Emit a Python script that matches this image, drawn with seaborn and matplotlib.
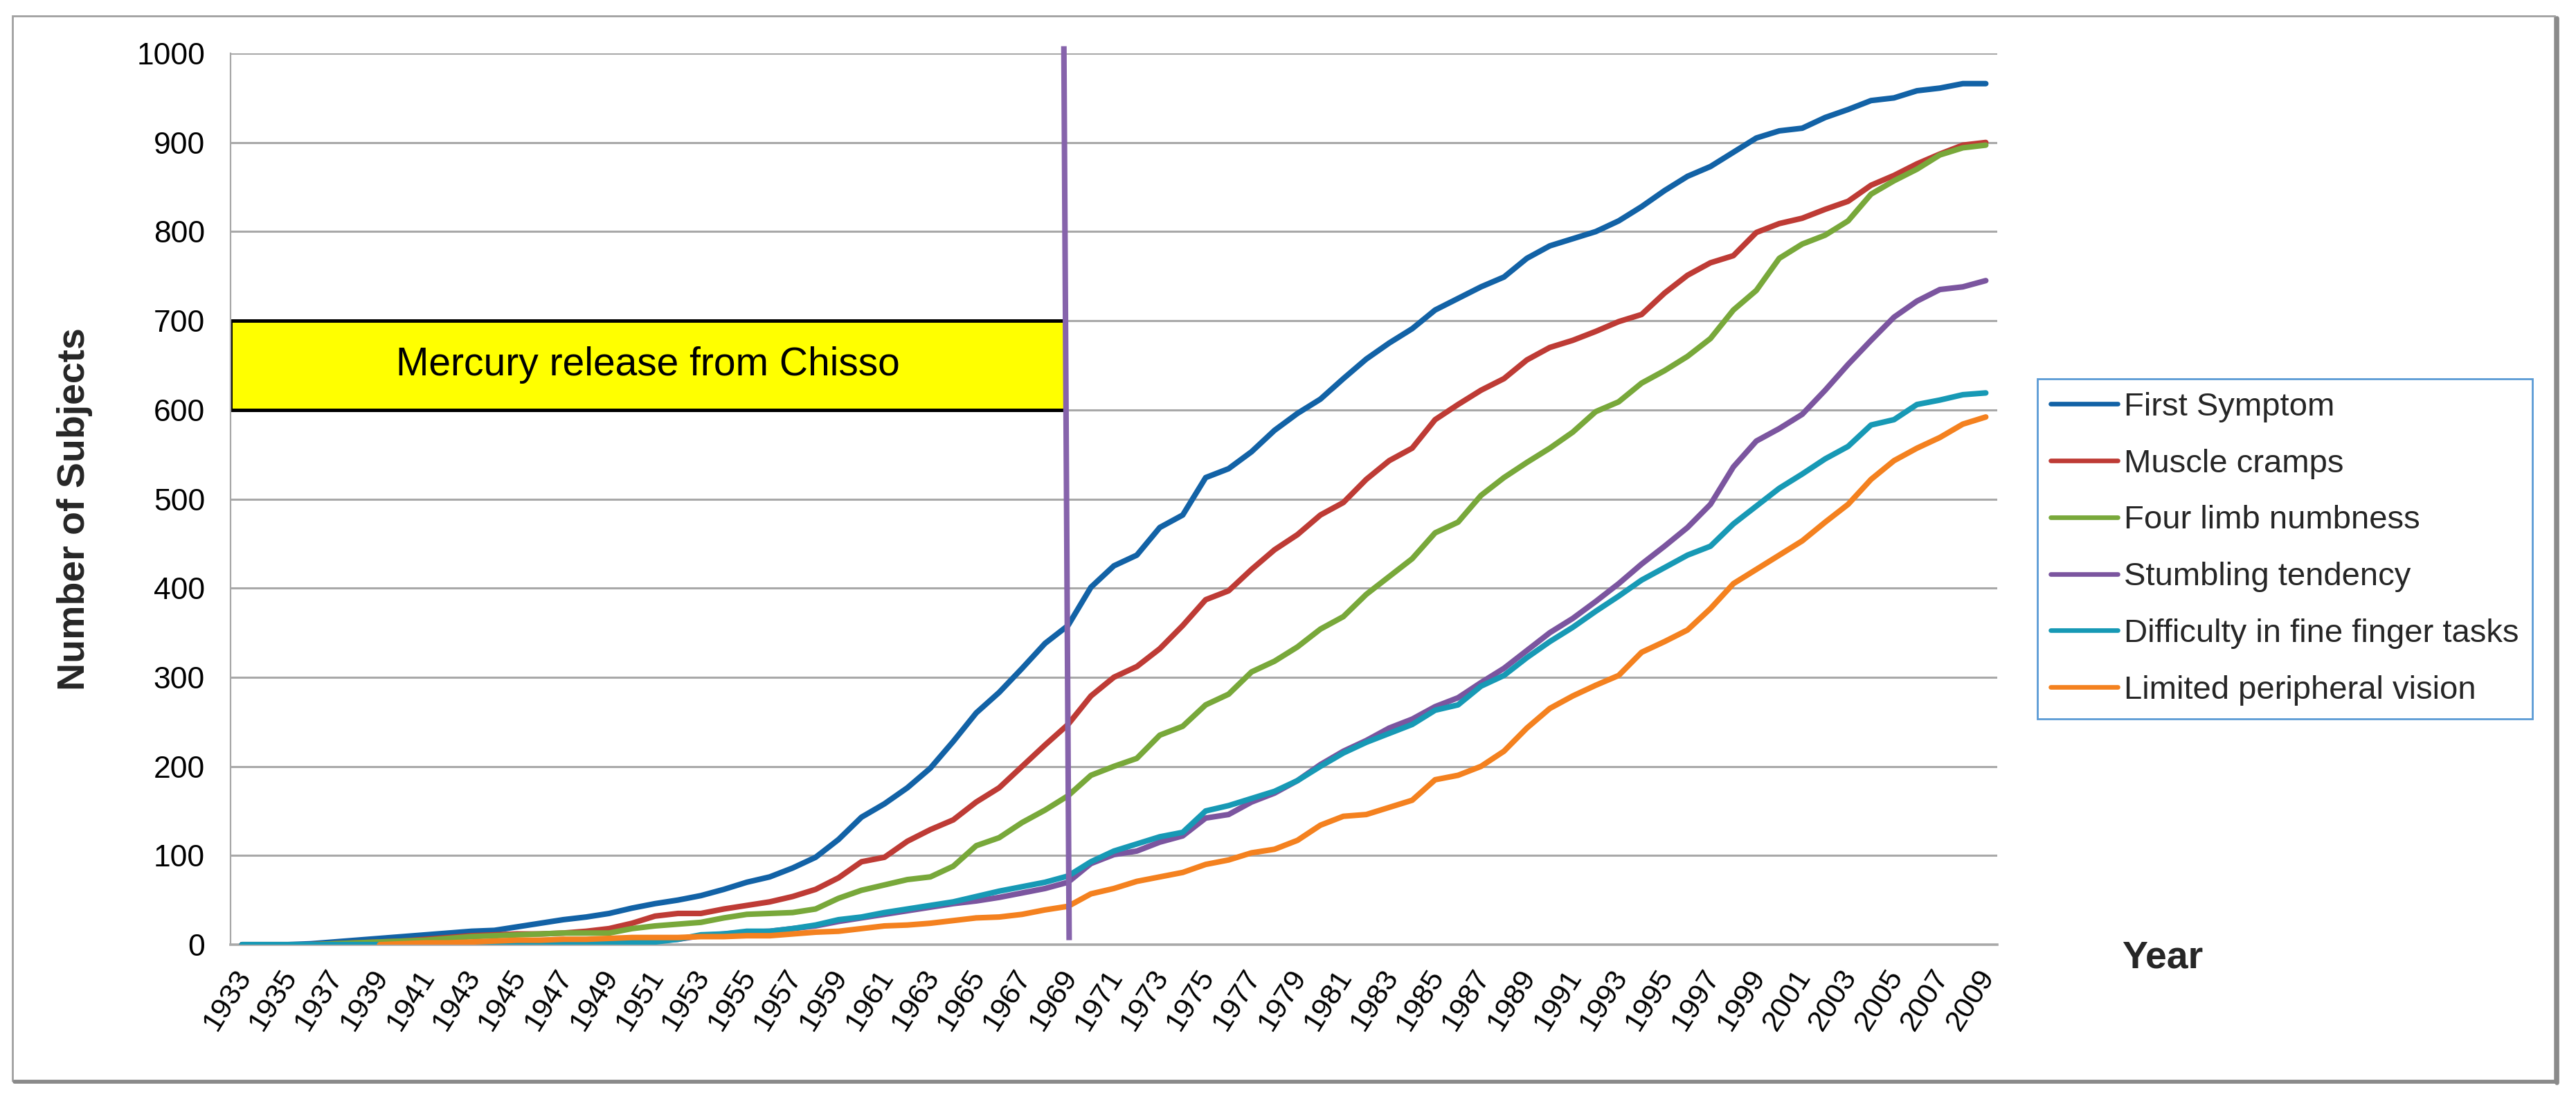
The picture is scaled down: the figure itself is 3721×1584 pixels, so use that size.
import numpy as np
import pandas as pd
import matplotlib
matplotlib.use("Agg")
import matplotlib.pyplot as plt
from matplotlib.lines import Line2D
from matplotlib.patches import Rectangle
from matplotlib.transforms import ScaledTranslation
import seaborn as sns

# ---------------- data ----------------
years = list(range(1933, 2010))

first_symptom = [0, 0, 0, 1, 3, 5, 7, 9, 11, 13, 15, 16, 20, 24, 28, 31, 35, 41, 46, 50,
                 55, 62, 70, 76, 86, 98, 118, 143, 158, 176, 198, 228, 260, 283, 310, 338, 358,
                 401, 425, 437, 468, 482, 524, 534, 553, 577, 596, 612, 635, 657, 675, 691, 712,
                 725, 738, 749, 770, 784, 792, 800, 812, 828, 846, 862, 873, 889, 905, 913, 916,
                 928, 937, 947, 950, 958, 961, 966, 966]

muscle_cramps = [0, 0, 0, 0, 1, 2, 3, 4, 6, 8, 10, 11, 12, 12, 13, 15, 18, 24, 32, 35,
                 35, 40, 44, 48, 54, 62, 75, 93, 98, 116, 129, 140, 160, 176, 200, 224, 247,
                 279, 300, 312, 332, 358, 387, 397, 421, 443, 460, 482, 496, 522, 543, 557, 589,
                 606, 622, 635, 656, 670, 678, 688, 699, 707, 731, 751, 765, 773, 799, 809, 815,
                 825, 834, 852, 863, 876, 887, 897, 900]

four_limb = [0, 0, 0, 0, 1, 2, 3, 4, 5, 7, 9, 10, 11, 12, 13, 13, 13, 18, 21, 23,
             25, 30, 34, 35, 36, 40, 52, 61, 67, 73, 76, 88, 111, 120, 137, 151, 167,
             190, 200, 209, 235, 245, 269, 281, 306, 318, 334, 354, 368, 393, 413, 433, 462,
             474, 504, 524, 541, 557, 575, 598, 609, 630, 644, 660, 680, 712, 734, 770, 786,
             796, 812, 842, 857, 870, 886, 894, 897]

stumbling = [0, 0, 0, 0, 0, 0, 0, 0, 0, 0, 0, 0, 1, 1, 1, 2, 2, 3, 4, 6,
             10, 12, 14, 15, 18, 21, 26, 30, 34, 38, 42, 46, 49, 53, 58, 63, 70,
             91, 101, 105, 115, 122, 142, 146, 160, 170, 184, 202, 217, 229, 243, 253, 267,
             277, 294, 310, 330, 350, 366, 385, 405, 427, 447, 468, 494, 536, 565, 579, 595,
             622, 651, 678, 704, 722, 735, 738, 745]

fine_finger = [0, 0, 0, 0, 0, 0, 0, 0, 0, 0, 0, 0, 1, 1, 1, 2, 2, 3, 3, 6,
               11, 12, 15, 15, 18, 22, 28, 31, 36, 40, 44, 48, 54, 60, 65, 70, 77,
               93, 105, 113, 121, 126, 150, 156, 164, 172, 184, 200, 215, 227, 237, 247, 263,
               269, 290, 302, 322, 340, 356, 374, 391, 409, 423, 437, 447, 472, 492, 512, 528,
               545, 559, 583, 589, 606, 611, 617, 619]

peripheral = [np.nan, np.nan, np.nan, np.nan, np.nan, np.nan,
              0, 1, 2, 2, 3, 4, 5, 5, 6, 6, 7, 8, 8, 8,
              9, 9, 10, 10, 12, 14, 15, 18, 21, 22, 24, 27, 30, 31, 34, 39, 43,
              57, 63, 71, 76, 81, 90, 95, 103, 107, 117, 134, 144, 146, 154, 162, 185,
              190, 200, 217, 243, 265, 279, 291, 302, 328, 340, 353, 377, 405, 421, 437, 453,
              474, 494, 522, 543, 557, 569, 584, 592]

series_names = ["First Symptom", "Muscle cramps", "Four limb numbness",
                "Stumbling tendency", "Difficulty in fine finger tasks",
                "Limited peripheral vision"]
series_values = [first_symptom, muscle_cramps, four_limb, stumbling, fine_finger, peripheral]
series_colors = ["#1262A6", "#BE3B35", "#78A83A", "#7B559F", "#1799B5", "#F4811F"]

y_ticks = list(range(0, 1001, 100))

# annotation: mercury release period (until 1969)
release_label = "Mercury release from Chisso"
release_box_low, release_box_high = 600, 700
release_end_idx = years.index(1969)

# ---------------- build long table ----------------
rows = []
for name, vals in zip(series_names, series_values):
    for i, (yr, v) in enumerate(zip(years, vals)):
        if not np.isnan(v):
            rows.append({"idx": i, "year": yr, "value": v, "series": name})
df = pd.DataFrame(rows)

# ---------------- figure ----------------
sns.set_style("white")
plt.rcParams["font.family"] = ["Liberation Sans", "DejaVu Sans"]

DPI = 200
W, H = 3721, 1584
fig = plt.figure(figsize=(W / DPI, H / DPI), dpi=DPI)
fig.patch.set_facecolor("white")

ax_left, ax_right = 333 / W, 2885 / W
ax_top, ax_bot = 1 - 77 / H, 1 - 1364 / H
ax = fig.add_axes([ax_left, ax_bot, ax_right - ax_left, ax_top - ax_bot])

sns.lineplot(data=df, x="idx", y="value", hue="series", hue_order=series_names,
             palette=dict(zip(series_names, series_colors)), linewidth=2.9,
             estimator=None, sort=False, legend=False, ax=ax)
for ln in ax.lines:
    ln.set_solid_capstyle("round")
    ln.set_solid_joinstyle("round")
    ln.set_zorder(3)

ax.set_xlim(-0.5, len(years) - 0.5)
ax.set_ylim(0, 1000)

# grid & spines
ax.set_axisbelow(True)
ax.yaxis.grid(True, color="#A8A8A8", linewidth=1.1)
ax.xaxis.grid(False)
for s in ["top", "right"]:
    ax.spines[s].set_visible(False)
ax.spines["left"].set_color("#A8A8A8")
ax.spines["left"].set_linewidth(0.8)
ax.spines["bottom"].set_color("#A8A8A8")
ax.spines["bottom"].set_linewidth(1.3)

# y ticks
ax.set_yticks(y_ticks)
ax.set_yticklabels([str(t) for t in y_ticks])
ax.tick_params(axis="y", which="major", length=4.3, width=0.8, color="#A8A8A8",
               direction="out", pad=9, labelsize=16, labelcolor="black")

# x ticks
ax.set_xticks(list(range(0, len(years), 2)))
ax.set_xticklabels([str(y) for y in years[::2]])
ax.set_xticks(np.arange(0.5, len(years), 1), minor=True)
ax.tick_params(axis="x", which="major", length=0, pad=14, labelsize=15.5, labelcolor="black")
ax.tick_params(axis="x", which="minor", length=4.7, width=0.8, color="#A8A8A8",
               direction="out")
shift = ScaledTranslation(4 / DPI, 0, fig.dpi_scale_trans)
for lab in ax.get_xticklabels():
    lab.set_rotation(58)
    lab.set_ha("right")
    lab.set_va("center")
    lab.set_rotation_mode("anchor")
    lab.set_transform(lab.get_transform() + shift)

ax.set_xlabel("")
ax.set_ylabel("")

# release box and vertical marker
line_x_top = release_end_idx - 0.18
line_x_bot = release_end_idx + 0.05
box_right = release_end_idx - 0.12
ax.add_patch(Rectangle((-0.5, release_box_low), box_right + 0.5,
                       release_box_high - release_box_low,
                       facecolor="#FFFF00", edgecolor="black", linewidth=1.8, zorder=2))
ax.text((box_right - 0.5) / 2, (release_box_low + release_box_high) / 2, release_label,
        ha="center", va="center", fontsize=20.5, color="black", zorder=4)
ax.plot([line_x_top, line_x_bot], [1008, 5], color="#8663AB", linewidth=2.9,
        clip_on=False, zorder=5, solid_capstyle="butt")

# axis titles
fig.text(108 / W, 1 - 735 / H, "Number of Subjects", rotation=90, ha="center",
         va="center", fontsize=20, fontweight="bold")
fig.text(3124 / W, 1 - 1383 / H, "Year", ha="center", va="center",
         fontsize=20, fontweight="bold")

# legend
handles = [Line2D([], [], color=c, linewidth=2.4, solid_capstyle="round")
           for c in series_colors]
leg = fig.legend(handles, series_names, loc="upper left",
                 bbox_to_anchor=(2943 / W, 1 - 547 / H), bbox_transform=fig.transFigure,
                 fontsize=17, frameon=True, fancybox=False, framealpha=1,
                 handlelength=2.05, handletextpad=0.2, labelspacing=0.8,
                 borderpad=0.4, borderaxespad=0)
leg.get_frame().set_edgecolor("#5B9BD5")
leg.get_frame().set_linewidth(1.0)

# outer chart border with shadow
fig.add_artist(Rectangle((18 / W, 1 - 1560 / H), (3690 - 18) / W, (1560 - 23) / H,
                         transform=fig.transFigure, fill=False,
                         edgecolor="#A0A0A0", linewidth=1.0))
fig.add_artist(Line2D([3693 / W, 3693 / W], [1 - 1563 / H, 1 - 26 / H],
                      transform=fig.transFigure, color="#8A8A8A", linewidth=2.4))
fig.add_artist(Line2D([21 / W, 3693 / W], [1 - 1562 / H, 1 - 1562 / H],
                      transform=fig.transFigure, color="#8A8A8A", linewidth=2.0))

fig.savefig("out.png", dpi=DPI, facecolor="white")
